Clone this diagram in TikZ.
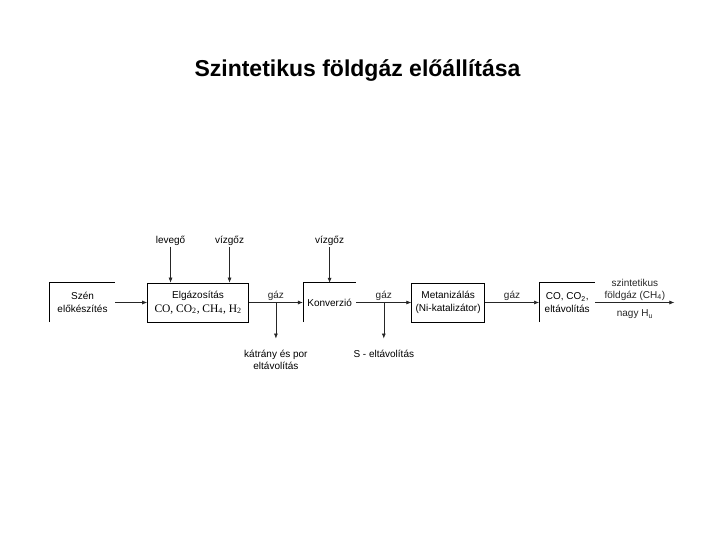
\documentclass[tikz,border=0pt]{standalone}
\usepackage{fontspec}
\setmainfont{Liberation Sans}
\newfontfamily\timesfont{Liberation Serif}
\usetikzlibrary{arrows.meta,positioning,calc}

\begin{document}
\begin{tikzpicture}[x=1pt, y=-1pt, node distance=54pt, every node/.style={font=\fontsize{10}{12.5}\selectfont}]
\tikzset{box/.style={align=center, minimum height=39pt, inner sep=1pt}}
\tikzset{fullbox/.style={box, draw, line width=0.7pt}}
\tikzset{arrow/.style={-{Latex[length=5pt,width=4pt]}, line width=0.6pt, black!85}}
\tikzset{lbl/.style={inner sep=1pt, align=center}}
\useasboundingbox (0,0) rectangle (720,540);
\node[font=\fontsize{23}{26}\selectfont\bfseries] (title) at (357.5,71) {Szintetikus földgáz előállítása};
% process chain
\node[box, minimum width=65pt] (szen) at (82.5,302.5) {Szén\\előkészítés};
\node[fullbox, minimum width=101pt, right=32pt of szen] (gaz) {Elgázosítás\\[1pt]{\timesfont\fontsize{11.5}{13}\selectfont CO, CO\textsubscript{2}, CH\textsubscript{4}, H\textsubscript{2}}};
\node[box, minimum width=53pt, right=of gaz] (konv) {Konverzió};
\node[fullbox, minimum width=73pt, right=55pt of konv] (met) {Metanizálás\\(Ni-katalizátor)};
\node[box, minimum width=56pt, right=of met] (tisz) {CO, CO\textsubscript{2},\\eltávolítás};
\coordinate[right=79pt of tisz] (kimenet);
% open boxes
\draw[line width=0.7pt] (szen.south west) |- (szen.north east);
\draw[line width=0.7pt] (konv.south west) |- (konv.north east);
\draw[line width=0.7pt] (tisz.south west) |- (tisz.north east);
% inputs
\node[lbl, above=36pt of gaz.north, xshift=-27.5pt] (lev) {levegő};
\node[lbl, above=36pt of gaz.north, xshift=31.5pt] (goz1) {vízgőz};
\node[lbl, above=36pt of konv.north] (goz2) {vízgőz};
\draw[arrow] (lev) -- (lev |- gaz.north);
\draw[arrow] (goz1) -- (goz1 |- gaz.north);
\draw[arrow] (goz2) -- (goz2 |- konv.north);
% main flow
\draw[arrow] (szen) -- (gaz);
\draw[arrow] (gaz) -- node[lbl, above=1pt] {gáz} (konv);
\draw[arrow] (konv) -- node[lbl, above=1pt] {gáz} (met);
\draw[arrow] (met) -- node[lbl, above=1pt] {gáz} (tisz);
\draw[arrow] (tisz) -- node[lbl, above=1pt, font=\fontsize{10}{11.5}\selectfont] {szintetikus\\földgáz (CH\textsubscript{4})} node[lbl, below=6pt] {nagy H\textsubscript{u}} (kimenet);
% side streams
\coordinate (ag1) at ($(gaz.east)!0.5!(konv.west)$);
\coordinate (ag2) at ($(konv.east)!0.5!(met.west)$);
\node[lbl, below=46pt of ag1] (katr) {kátrány és por\\eltávolítás};
\node[lbl, below=46pt of ag2] (ken) {S - eltávolítás};
\draw[arrow, shorten >=10pt] (ag1) -- (katr.north);
\draw[arrow, shorten >=10pt] (ag2) -- (ken.north);
\end{tikzpicture}
\end{document}
